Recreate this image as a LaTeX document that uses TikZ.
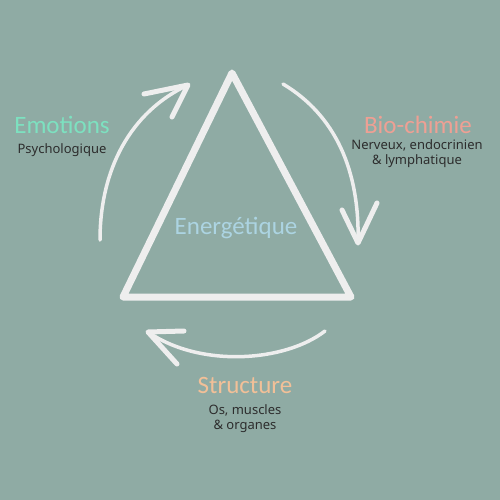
\documentclass[tikz,border=0pt]{standalone}
\usepackage{fontspec}
\setmainfont{Noto Sans}
\newfontfamily\handfont{Carlito}
\definecolor{bgteal}{RGB}{143,171,164}
\definecolor{chalk}{RGB}{238,238,238}
\definecolor{mint}{RGB}{125,225,192}
\definecolor{salmon}{RGB}{238,160,148}
\definecolor{peach}{RGB}{242,192,152}
\definecolor{skyblue}{RGB}{172,212,226}
\definecolor{ink}{RGB}{45,45,45}
\begin{document}
\begin{tikzpicture}[x=1pt, y=-1pt]
  \tikzset{title/.style = {font=\handfont\fontsize{25}{25}\selectfont},
           sub/.style = {font=\fontsize{13}{15}\selectfont, text=ink, align=center},
           chalkline/.style = {draw=chalk, line width=3.5pt, line cap=round, line join=round},
           chalkhead/.style = {draw=chalk, line width=5pt, line cap=round, line join=round}}

  \fill[bgteal] (0,0) rectangle (500,500);
  \useasboundingbox (0,0) rectangle (500,500);

  % triangle
  \coordinate (top) at (232,73);
  \coordinate (left) at (123,297);
  \coordinate (right) at (351,297);
  \draw[chalk, line width=7pt, line join=round] (top) -- (right) -- (left) -- cycle;

  % arrows
  \coordinate (a1) at (100,240);
  \coordinate (a1tip) at (188,85);
  \coordinate (a1h1) at (144,94);
  \coordinate (a1h2) at (172,117);
  \draw[chalkline] (a1) .. controls (100,170) and (130,112) .. (a1tip);
  \draw[chalkhead] (a1h1) -- (a1tip) -- (a1h2);

  \coordinate (a2) at (283,84);
  \coordinate (a2tip) at (358,243);
  \coordinate (a2h1) at (342,210);
  \coordinate (a2h2) at (377,203);
  \draw[chalkline] (a2) .. controls (335,115) and (360,170) .. (a2tip);
  \draw[chalkhead] (a2h1) -- (a2tip) -- (a2h2);

  \coordinate (a3) at (325,331);
  \coordinate (a3tip) at (148,332);
  \coordinate (a3h1) at (184,331);
  \coordinate (a3h2) at (177,364);
  \draw[chalkline] (a3) .. controls (285,362) and (200,368) .. (a3tip);
  \draw[chalkhead] (a3h1) -- (a3tip) -- (a3h2);

  % labels
  \node[title, text=mint] (emo) at (62,125) {Emotions};
  \node[sub] (psy) at (62,150) {Psychologique};

  \node[title, text=salmon] (bio) at (418,125) {Bio-chimie};
  \node[sub] (ner) at (417,154) {Nerveux, endocrinien\\\& lymphatique};

  \node[title, text=peach] (str) at (245,385) {Structure};
  \node[sub] (os) at (245,419) {Os, muscles\\\& organes};

  \node[title, text=skyblue] (ene) at (236,228) {Energétique};
\end{tikzpicture}
\end{document}
